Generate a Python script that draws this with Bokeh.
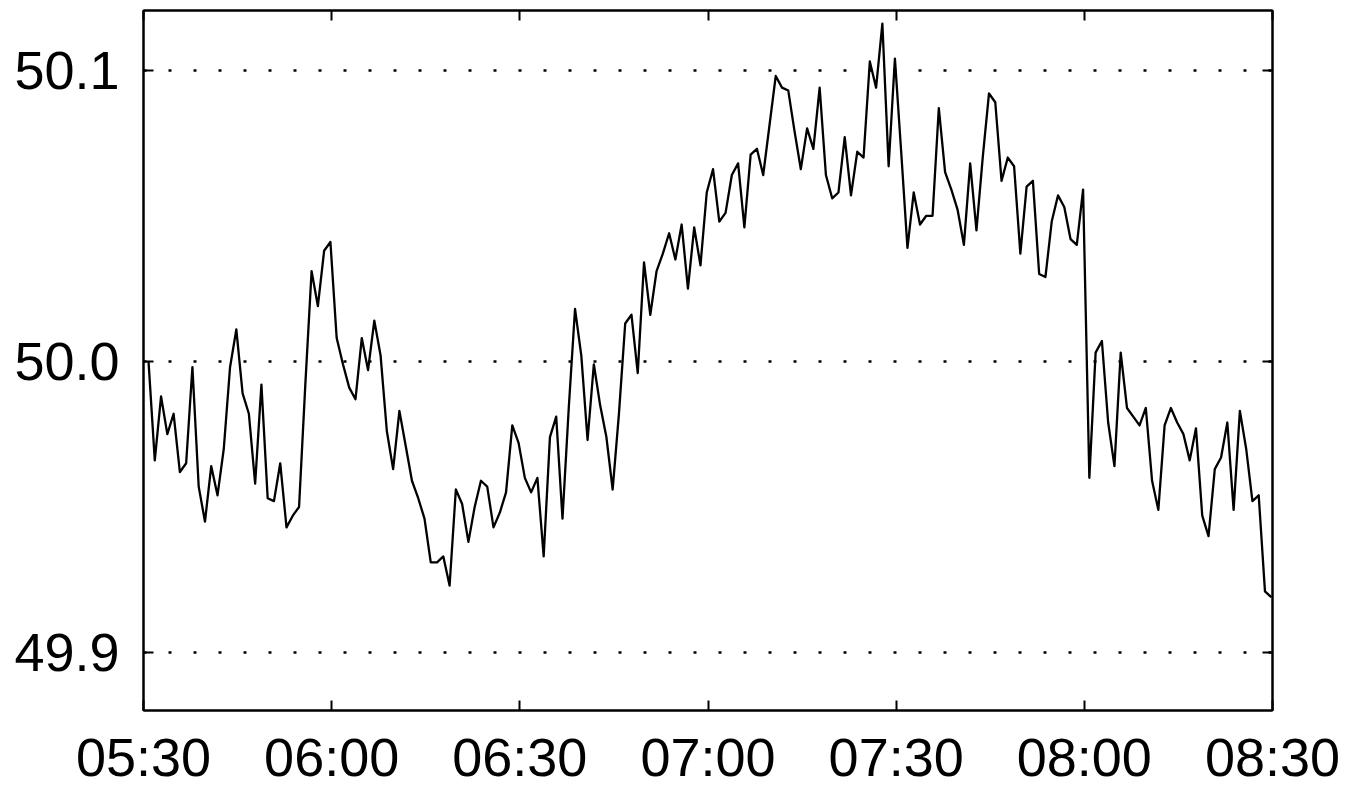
from bokeh.plotting import figure
from bokeh.models import Range1d, FixedTicker, LinearAxis
from bokeh.embed import file_html
from bokeh.resources import INLINE

# Sampling: one reading per minute, first one 0.8 min after 05:30 (minutes since 05:30)
first_sample_min = 0.8
sample_step_min = 1.0

# Frequency readings (Hz)
freq = [
    50.000, 49.966, 49.988, 49.975, 49.982, 49.962, 49.965, 49.998, 49.957, 49.945,
    49.964, 49.954, 49.970, 49.998, 50.011, 49.989, 49.982, 49.958, 49.992, 49.953,
    49.952, 49.965, 49.943, 49.947, 49.950, 49.992, 50.031, 50.019, 50.038, 50.041,
    50.008, 49.999, 49.991, 49.987, 50.008, 49.997, 50.014, 50.002, 49.976, 49.963,
    49.983, 49.971, 49.959, 49.953, 49.946, 49.931, 49.931, 49.933, 49.923, 49.956,
    49.951, 49.938, 49.950, 49.959, 49.957, 49.943, 49.948, 49.955, 49.978, 49.972,
    49.960, 49.955, 49.960, 49.933, 49.974, 49.981, 49.946, 49.984, 50.018, 50.002,
    49.973, 49.999, 49.985, 49.974, 49.956, 49.982, 50.013, 50.016, 49.996, 50.034,
    50.016, 50.031, 50.037, 50.044, 50.035, 50.047, 50.025, 50.046, 50.033, 50.058,
    50.066, 50.048, 50.051, 50.064, 50.068, 50.046, 50.071, 50.073, 50.064, 50.081,
    50.098, 50.094, 50.093, 50.079, 50.066, 50.080, 50.073, 50.094, 50.064, 50.056,
    50.058, 50.077, 50.057, 50.072, 50.070, 50.103, 50.094, 50.116, 50.067, 50.104,
    50.072, 50.039, 50.058, 50.047, 50.050, 50.050, 50.087, 50.065, 50.059, 50.052,
    50.040, 50.068, 50.045, 50.070, 50.092, 50.089, 50.062, 50.070, 50.067, 50.037,
    50.060, 50.062, 50.030, 50.029, 50.048, 50.057, 50.053, 50.042, 50.040, 50.059,
    49.960, 50.003, 50.007, 49.979, 49.964, 50.003, 49.984, 49.981, 49.978, 49.984,
    49.959, 49.949, 49.978, 49.984, 49.979, 49.975, 49.966, 49.977, 49.947, 49.940,
    49.963, 49.967, 49.979, 49.949, 49.983, 49.970, 49.952, 49.954, 49.921, 49.919,
]

x_tick_labels = ["05:30", "06:00", "06:30", "07:00", "07:30", "08:00", "08:30"]
y_ticks = [49.9, 50.0, 50.1]
y_tick_labels = ["49.9", "50.0", "50.1"]
y_min, y_max = 49.8801, 50.1205


def to_min(label):
    h, m = label.split(":")
    return (int(h) - 5) * 60 + int(m) - 30


x_ticks = [to_min(s) for s in x_tick_labels]
t = [first_sample_min + i * sample_step_min for i in range(len(freq))]

FONT = "Liberation Sans"

p = figure(
    frame_width=1129, frame_height=700,
    min_border_left=143, min_border_top=10, min_border_right=68, min_border_bottom=74,
    x_range=Range1d(x_ticks[0], x_ticks[-1]),
    y_range=Range1d(y_min, y_max),
    output_backend="svg", toolbar_location=None,
    background_fill_color="white", border_fill_color="white",
)

p.line(t, freq, line_color="black", line_width=2.3, line_join="round")

p.outline_line_color = "black"
p.outline_line_width = 2

p.xgrid.grid_line_color = None
p.ygrid.ticker = FixedTicker(ticks=y_ticks)
p.ygrid.grid_line_color = "black"
p.ygrid.grid_line_width = 2.5
p.ygrid.grid_line_dash = "3 22"

xt = FixedTicker(ticks=x_ticks)
yt = FixedTicker(ticks=y_ticks)

for ax in p.xaxis:
    ax.ticker = xt
    ax.major_label_overrides = {v: s for v, s in zip(x_ticks, x_tick_labels)}
    ax.major_label_standoff = 16
for ax in p.yaxis:
    ax.ticker = yt
    ax.major_label_overrides = {v: s for v, s in zip(y_ticks, y_tick_labels)}
    ax.major_label_standoff = 24

# top and right frame axes: inward ticks only, no labels
top = LinearAxis(ticker=xt, major_label_overrides={v: "" for v in x_ticks})
right = LinearAxis(ticker=yt, major_label_overrides={v: "" for v in y_ticks})
p.add_layout(top, "above")
p.add_layout(right, "right")

for ax in [top, right]:
    ax.major_label_text_font_size = "1px"
    ax.major_label_standoff = 0

for ax in list(p.xaxis) + list(p.yaxis):
    ax.axis_line_color = "black"
    ax.axis_line_width = 2
    ax.major_tick_in = 10
    ax.major_tick_out = 0
    ax.major_tick_line_color = "black"
    ax.major_tick_line_width = 2
    ax.minor_tick_line_color = None
    ax.major_label_text_font = FONT
    ax.major_label_text_color = "black"

for ax in p.below + p.left:
    ax.major_label_text_font_size = "54px"

open("out.html", "w").write(file_html(p, INLINE))
